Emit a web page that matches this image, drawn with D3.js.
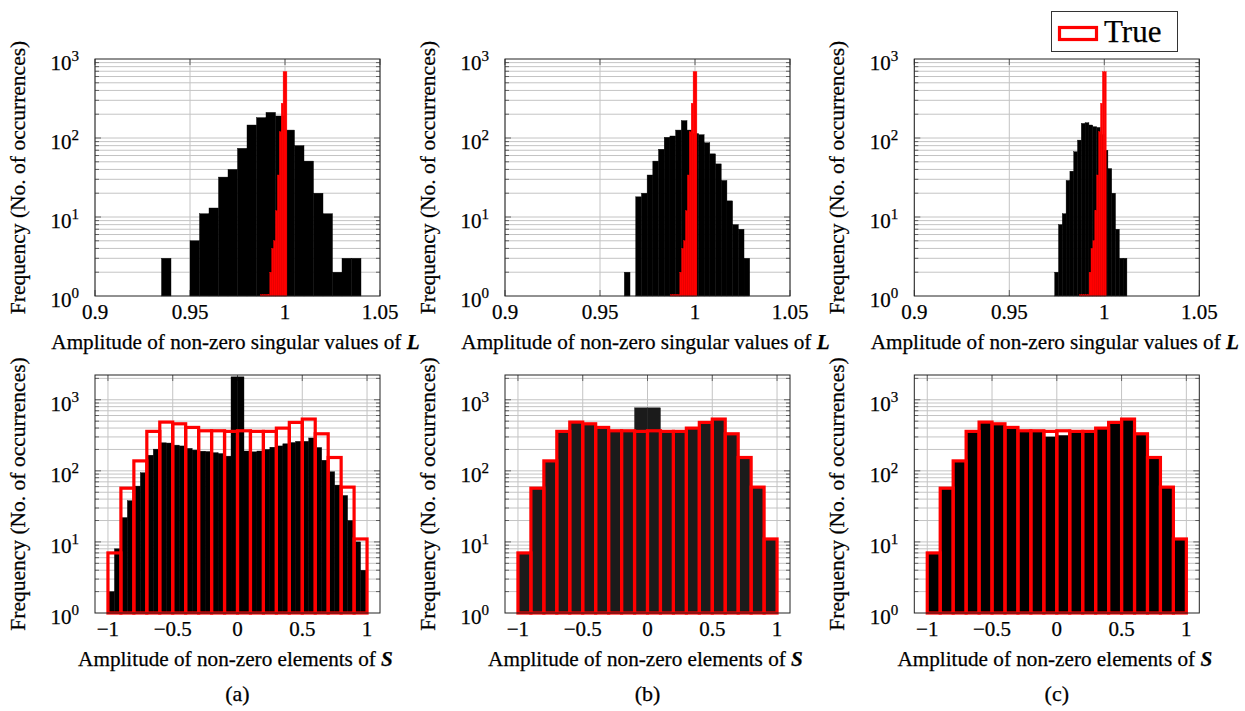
<!DOCTYPE html>
<html>
<head>
<meta charset="utf-8">
<script src="https://cdn.jsdelivr.net/npm/d3@7"></script>
<style>
  body { margin: 0; background: #fff; }
  text { font-family: "Liberation Serif", "DejaVu Serif", serif; fill: #000; }
</style>
</head>
<body>
<svg id="fig" width="1245" height="711" font-family="Liberation Serif, DejaVu Serif, serif"></svg>
<script>
// ---- Singular values of L (top row) ----
const svTicks = [0.9, 0.95, 1, 1.05];
const svTickLabels = ["0.9", "0.95", "1", "1.05"];

// estimated singular values, one histogram per method (bin start, bin width, counts)
const svEstStartA = 0.935, svEstWidthA = 0.005;
const svEstCountsA = [3, 0, 0, 5, 11, 13, 32, 40, 74, 146, 181, 211, 190, 126, 80, 51, 20, 11, 2, 3, 3];
const svEstStartB = 0.9628, svEstWidthB = 0.003;
const svEstCountsB = [2, 0, 18, 20, 34, 51, 72, 102, 106, 126, 166, 126, 114, 110, 87, 63, 47, 29, 16, 8, 7, 3];
const svEstStartC = 0.9739, svEstWidthC = 0.002;
const svEstCountsC = [2, 8, 11, 29, 38, 67, 94, 153, 156, 146, 139, 136, 110, 70, 41, 20, 7, 3, 3];

// true singular values
const svTrueStart = 0.987, svTrueWidth = 0.001;
const svTrueCounts = [1, 1, 1, 1, 1, 2, 4, 5, 12, 34, 120, 275, 690, 690];

// ---- Non-zero elements of S (bottom row) ----
const sTicks = [-1, -0.5, 0, 0.5, 1];
const sTickLabels = ["\u22121", "\u22120.5", "0", "0.5", "1"];

const sEstStartA = -1, sEstWidthA = 0.05;
const sEstCountsA = [2, 8, 22, 38, 61, 94, 166, 202, 248, 246, 230, 224, 207, 196, 189, 187, 180, 175, 161, 2100,
                     2100, 190, 185, 190, 200, 215, 224, 240, 250, 260, 260, 290, 213, 141, 97, 63, 45, 20, 10, 4];
const sEstStartB = -1, sEstWidthB = 0.1;
const sEstCountsB = [7, 57, 138, 359, 485, 459, 408, 366, 366, 770, 770, 359, 359, 399, 480, 535, 332, 154, 59, 11];
const sEstStartC = -1, sEstWidthC = 0.1;
const sEstCountsC = [7, 57, 138, 359, 485, 459, 408, 366, 366, 300, 315, 359, 359, 399, 480, 535, 332, 154, 59, 11];

const sTrueStart = -1, sTrueWidth = 0.1;
const sTrueCounts = [7, 57, 138, 359, 485, 459, 408, 366, 366, 359, 366, 359, 359, 399, 480, 535, 332, 154, 59, 11];

const yPowerLabels = ["0", "1", "2", "3"];
const panelTags = ["(a)", "(b)", "(c)"];
const legendLabel = "True";

// ---- layout ----
const FONT = "'Liberation Serif', 'DejaVu Serif', serif";
const svg = d3.select("#fig");
const colLeft = [95, 505, 914.3];
const plotW = 285;
const rows = [
  { top: 59, bottom: 296, yMax: 1000 },
  { top: 375, bottom: 613, yMax: 2230 }
];

function bins(start, width, counts) {
  return counts.map((c, i) => ({ x0: start + i * width, x1: start + (i + 1) * width, v: c }));
}

// text styling: a hairline outline gives the glyphs a slightly heavier weight
function label(sel) {
  return sel.style("font-family", FONT).attr("fill", "#000")
    .attr("stroke", "#000").attr("stroke-width", 0.25);
}

const panels = [
  { col: 0, row: 0, est: bins(svEstStartA, svEstWidthA, svEstCountsA), estFill: "#000" },
  { col: 1, row: 0, est: bins(svEstStartB, svEstWidthB, svEstCountsB), estFill: "#000" },
  { col: 2, row: 0, est: bins(svEstStartC, svEstWidthC, svEstCountsC), estFill: "#000" },
  { col: 0, row: 1, est: bins(sEstStartA, sEstWidthA, sEstCountsA), estFill: "#000" },
  { col: 1, row: 1, est: bins(sEstStartB, sEstWidthB, sEstCountsB), estFill: "#1b1b1b" },
  { col: 2, row: 1, est: bins(sEstStartC, sEstWidthC, sEstCountsC), estFill: "#000" }
];

panels.forEach(p => {
  const r = rows[p.row];
  const left = colLeft[p.col];
  const isSV = p.row === 0;
  const xs = d3.scaleLinear()
    .domain(isSV ? [0.9, 1.05] : [-1.1, 1.1])
    .range([left, left + plotW]);
  const ys = d3.scaleLog().domain([1, r.yMax]).range([r.bottom, r.top]);
  const ticks = isSV ? svTicks : sTicks;
  const tickLabels = isSV ? svTickLabels : sTickLabels;
  const g = svg.append("g");

  // grid
  const yAll = ys.ticks().filter(v => v > 1 && v < r.yMax);
  const isMajor = v => Math.abs(Math.log10(v) - Math.round(Math.log10(v))) < 1e-9;
  g.append("g").selectAll("line").data(yAll).join("line")
    .attr("x1", left).attr("x2", left + plotW)
    .attr("y1", d => ys(d)).attr("y2", d => ys(d))
    .attr("stroke", "#c4c4c4").attr("stroke-width", 1);
  g.append("g").selectAll("line").data(ticks).join("line")
    .attr("x1", d => xs(d)).attr("x2", d => xs(d))
    .attr("y1", r.top).attr("y2", r.bottom)
    .attr("stroke", "#c4c4c4").attr("stroke-width", 1);

  // tick marks (inward, all four sides)
  const tg = g.append("g").attr("stroke", "#555").attr("stroke-width", 0.9);
  yAll.forEach(v => {
    const len = isMajor(v) ? 6 : 4;
    tg.append("line").attr("x1", left).attr("x2", left + len).attr("y1", ys(v)).attr("y2", ys(v));
    tg.append("line").attr("x1", left + plotW).attr("x2", left + plotW - len).attr("y1", ys(v)).attr("y2", ys(v));
  });
  ticks.forEach(t => {
    tg.append("line").attr("x1", xs(t)).attr("x2", xs(t)).attr("y1", r.bottom).attr("y2", r.bottom - 6);
    tg.append("line").attr("x1", xs(t)).attr("x2", xs(t)).attr("y1", r.top).attr("y2", r.top + 6);
  });

  // estimated histogram
  g.append("g").selectAll("rect").data(p.est.filter(d => d.v > 1)).join("rect")
    .attr("x", d => xs(d.x0)).attr("width", d => xs(d.x1) - xs(d.x0))
    .attr("y", d => ys(d.v)).attr("height", d => ys(1) - ys(d.v))
    .attr("fill", p.estFill)
    .attr("stroke", p.estFill).attr("stroke-width", 0.4);

  // true histogram
  if (isSV) {
    const tb = bins(svTrueStart, svTrueWidth, svTrueCounts);
    g.append("g").selectAll("rect").data(tb).join("rect")
      .attr("x", d => xs(d.x0)).attr("width", d => xs(d.x1) - xs(d.x0))
      .attr("y", d => Math.min(ys(d.v), ys(1) - 1.3))
      .attr("height", d => Math.max(ys(1) - ys(d.v), 1.3))
      .attr("fill", "#ff0000").attr("stroke", "#ff0000").attr("stroke-width", 0.4);
  } else {
    const tb = bins(sTrueStart, sTrueWidth, sTrueCounts);
    g.append("g").selectAll("rect").data(tb).join("rect")
      .attr("x", d => xs(d.x0)).attr("width", d => xs(d.x1) - xs(d.x0))
      .attr("y", d => ys(d.v)).attr("height", d => ys(1) - ys(d.v))
      .attr("fill", "none").attr("stroke", "#ff0000").attr("stroke-width", 3.2);
  }

  // frame
  g.append("rect").attr("x", left).attr("y", r.top)
    .attr("width", plotW).attr("height", r.bottom - r.top)
    .attr("fill", "none").attr("stroke", "#222").attr("stroke-width", 1);

  // x tick labels
  label(g.append("g").selectAll("text").data(ticks).join("text"))
    .attr("x", d => xs(d)).attr("y", r.bottom + 23)
    .attr("text-anchor", "middle").attr("font-size", 21)
    .text((d, i) => tickLabels[i]);

  // y tick labels 10^k
  yPowerLabels.forEach((pw, k) => {
    const t = label(g.append("text"))
      .attr("x", left - 16).attr("y", ys(Math.pow(10, k)) + 11)
      .attr("text-anchor", "end").attr("font-size", 21);
    t.append("tspan").text("10");
    t.append("tspan").attr("dy", -9).attr("font-size", 15).text(pw);
  });

  // axis titles
  const xt = label(g.append("text"))
    .attr("x", left + plotW / 2 - 2).attr("y", r.bottom + 53)
    .attr("text-anchor", "middle").attr("font-size", 21.2);
  xt.append("tspan").text(isSV ? "Amplitude of non-zero singular values of " : "Amplitude of non-zero elements of ");
  xt.append("tspan").attr("font-weight", "bold").attr("font-style", "italic").text(isSV ? "L" : "S");

  label(g.append("text"))
    .attr("transform", `translate(${left - 70},${(r.top + r.bottom) / 2}) rotate(-90)`)
    .attr("text-anchor", "middle").attr("font-size", 21.5)
    .text("Frequency (No. of occurrences)");

  if (!isSV) {
    label(g.append("text"))
      .attr("x", left + plotW / 2).attr("y", 701)
      .attr("text-anchor", "middle").attr("font-size", 22)
      .text(panelTags[p.col]);
  }
});

// legend
const lg = svg.append("g");
lg.append("rect").attr("x", 1051.5).attr("y", 11.5).attr("width", 126).attr("height", 40)
  .attr("fill", "#fff").attr("stroke", "#333").attr("stroke-width", 1);
lg.append("rect").attr("x", 1059.5).attr("y", 27.5).attr("width", 37).attr("height", 12)
  .attr("fill", "#fff").attr("stroke", "#ff0000").attr("stroke-width", 3.2);
label(lg.append("text")).attr("x", 1104).attr("y", 42).attr("font-size", 31).text(legendLabel);
</script>
</body>
</html>
